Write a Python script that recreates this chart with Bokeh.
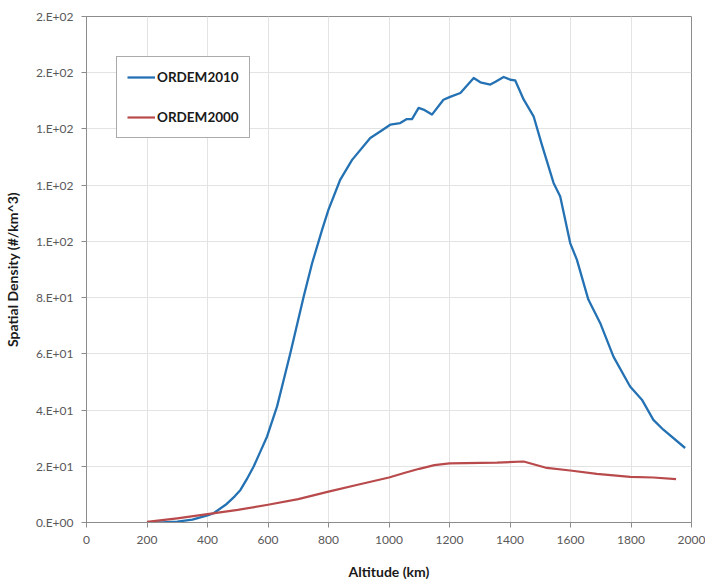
from bokeh.plotting import figure
from bokeh.models import Legend, LegendItem, FixedTicker, Range1d
from bokeh.embed import file_html
from bokeh.resources import INLINE

# ORDEM2010 spatial density vs altitude
alt_2010 = [200, 250, 300, 350, 400, 420, 460, 490, 509, 530, 553, 575, 597, 630, 652,
            674, 718, 746, 779, 800, 839, 878, 938, 971, 1004, 1037, 1059, 1076, 1098,
            1114, 1142, 1180, 1202, 1236, 1280, 1302, 1335, 1352, 1379, 1401, 1417,
            1445, 1478, 1505, 1544, 1566, 1599, 1621, 1659, 1698, 1742, 1797, 1836,
            1874, 1907, 1979]
dens_2010 = [0.0, 0.0, 0.3, 1.0, 2.5, 3.3, 6.3, 9.3, 11.6, 15.4, 20.0, 25.3, 30.6, 41.3,
             50.8, 60.3, 80.4, 92.3, 104.2, 111.3, 122.0, 129.0, 136.8, 139.1, 141.5,
             142.1, 143.5, 143.5, 147.5, 146.9, 145.1, 150.4, 151.4, 152.8, 158.1, 156.6,
             155.8, 156.8, 158.5, 157.5, 157.3, 150.5, 144.5, 134.5, 120.8, 116.0, 99.4,
             93.5, 79.3, 71.0, 59.0, 48.4, 43.7, 36.5, 33.0, 26.5]

# ORDEM2000 spatial density vs altitude
alt_2000 = [200, 300, 400, 500, 600, 700, 800, 900, 1000, 1050, 1100, 1150, 1200, 1357,
            1445, 1522, 1599, 1687, 1797, 1874, 1949]
dens_2000 = [0.2, 1.5, 3.0, 4.5, 6.3, 8.3, 11.0, 13.5, 16.0, 17.6, 19.1, 20.4, 21.0, 21.3,
             21.7, 19.4, 18.5, 17.3, 16.2, 16.0, 15.4]

x_ticks = [0, 200, 400, 600, 800, 1000, 1200, 1400, 1600, 1800, 2000]
y_ticks = [0, 20, 40, 60, 80, 100, 120, 140, 160, 180]
y_tick_labels = ["0.E+00", "2.E+01", "4.E+01", "6.E+01", "8.E+01",
                 "1.E+02", "1.E+02", "1.E+02", "2.E+02", "2.E+02"]

FONT = "Lato"
AXIS_GRAY = "#8c8c8c"
GRID_GRAY = "#e3e3e3"
LABEL_GRAY = "#595959"

p = figure(width=705, height=584, output_backend="svg", toolbar_location=None,
           x_range=Range1d(0, 2000), y_range=Range1d(0, 180),
           min_border_left=86, min_border_right=14, min_border_top=16,
           min_border_bottom=62)
p.background_fill_color = "white"
p.border_fill_color = "white"
p.outline_line_color = AXIS_GRAY
p.outline_line_width = 1

r2010 = p.line(alt_2010, dens_2010, line_color="#2472b3", line_width=2.3,
               line_join="round")
r2000 = p.line(alt_2000, dens_2000, line_color="#b94a4c", line_width=2.2,
               line_join="round")

p.xaxis.ticker = FixedTicker(ticks=x_ticks)
p.yaxis.ticker = FixedTicker(ticks=y_ticks)
p.yaxis.major_label_overrides = {t: s for t, s in zip(y_ticks, y_tick_labels)}

for ax in (p.xaxis[0], p.yaxis[0]):
    ax.axis_line_color = AXIS_GRAY
    ax.major_tick_line_color = AXIS_GRAY
    ax.major_tick_out = 5
    ax.major_tick_in = 0
    ax.minor_tick_line_color = None
    ax.major_label_text_font = FONT
    ax.major_label_text_font_size = "12px"
    ax.major_label_text_color = LABEL_GRAY
    ax.axis_label_text_font = FONT
    ax.axis_label_text_font_style = "bold"
    ax.axis_label_text_font_size = "14px"
    ax.axis_label_text_color = "#1a1a1a"

p.xaxis.axis_label = "Altitude (km)"
p.yaxis.axis_label = "Spatial Density (#/km^3)"
p.xaxis.major_label_standoff = 8
p.xaxis.axis_label_standoff = 16
p.yaxis.major_label_standoff = 8
p.yaxis.axis_label_standoff = 12

p.xgrid.grid_line_color = GRID_GRAY
p.ygrid.grid_line_color = GRID_GRAY
p.xgrid.ticker = FixedTicker(ticks=x_ticks)
p.ygrid.ticker = FixedTicker(ticks=y_ticks)

legend = Legend(items=[LegendItem(label="ORDEM2010", renderers=[r2010]),
                       LegendItem(label="ORDEM2000", renderers=[r2000])],
                location=(30, 384))
legend.label_text_font = FONT
legend.label_text_font_style = "bold"
legend.label_text_font_size = "13.5px"
legend.label_text_color = "#1a1a1a"
legend.border_line_color = "#555555"
legend.border_line_width = 1
legend.background_fill_alpha = 1
legend.padding = 10
legend.spacing = 20
legend.label_standoff = 2
legend.glyph_width = 28
legend.glyph_height = 20
legend.label_height = 20
legend.margin = 0
p.add_layout(legend)

open("out.html", "w").write(file_html(p, INLINE))
